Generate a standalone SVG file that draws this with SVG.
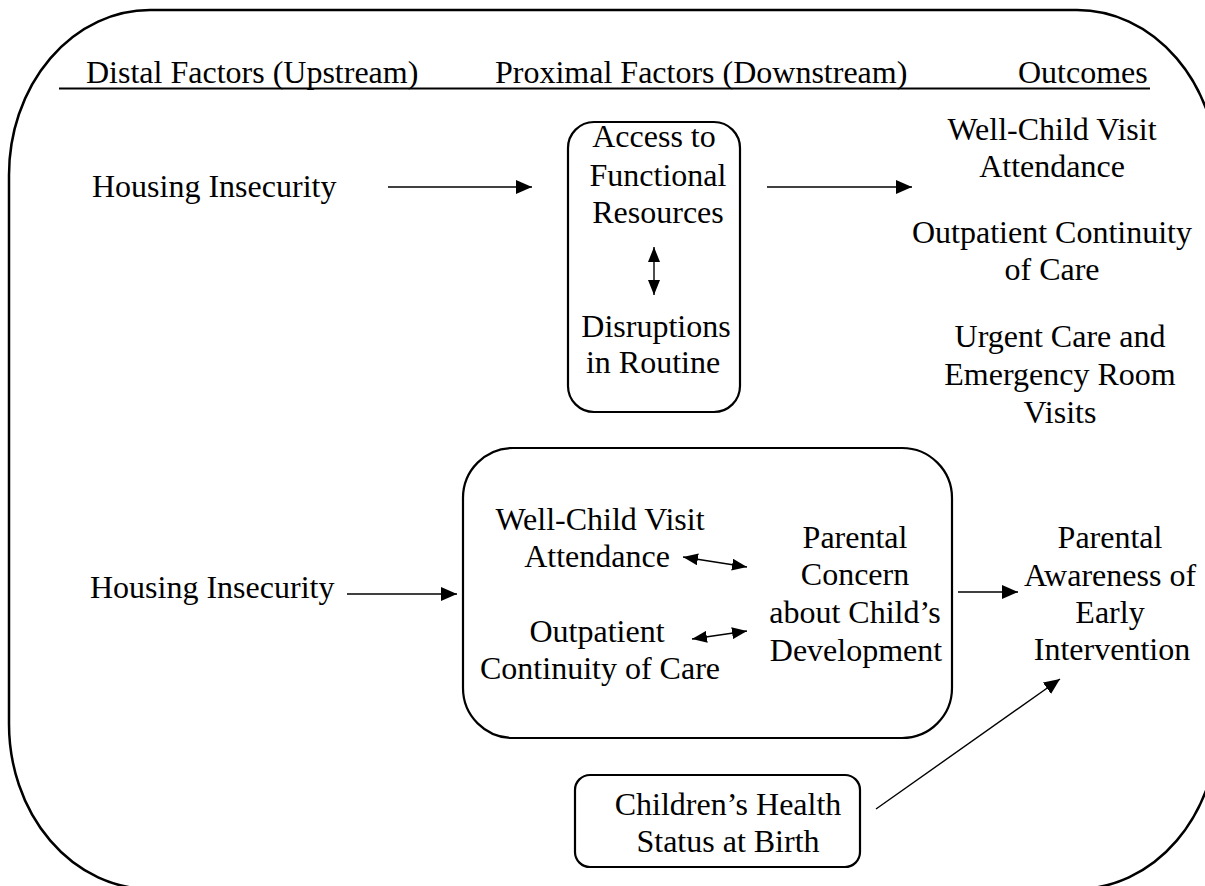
<svg xmlns="http://www.w3.org/2000/svg" width="1205" height="886" viewBox="0 0 1205 886">
<defs>
<style>
text{font-family:"Liberation Serif","Times New Roman",serif;font-size:32px;fill:#000}
.c{text-anchor:middle}
.box{fill:none;stroke:#000;stroke-width:2.2}
.ln{fill:none;stroke:#000;stroke-width:1.4}
</style>
<marker id="ah" viewBox="0 0 16 14" refX="16" refY="7" markerWidth="16" markerHeight="14" markerUnits="userSpaceOnUse" orient="auto-start-reverse">
<path d="M0,0 L16,7 L0,14 Z" fill="#000"/>
</marker>
<marker id="ahs" viewBox="0 0 15 12" refX="15" refY="6" markerWidth="15" markerHeight="12" markerUnits="userSpaceOnUse" orient="auto-start-reverse">
<path d="M0,0 L15,6 L0,12 Z" fill="#000"/>
</marker>
</defs>
<rect width="1205" height="886" fill="#fff"/>
<g id="frame">
<rect x="9" y="10" width="1209" height="879" rx="141" ry="165" fill="none" stroke="#000" stroke-width="2.5"/>
</g>
<g id="header">
<text x="86" y="83">Distal Factors (Upstream)</text>
<text x="495" y="83">Proximal Factors (Downstream)</text>
<text x="1018" y="83">Outcomes</text>
<line x1="59" y1="88.5" x2="1150" y2="88.5" stroke="#000" stroke-width="2"/>
</g>
<g id="housing1">
<text x="92" y="197">Housing Insecurity</text>
</g>
<g id="proximal1">
<rect class="box" x="568" y="122" width="172" height="290" rx="26" ry="26"/>
<text class="c" x="654" y="147">Access to</text>
<text class="c" x="658" y="186">Functional</text>
<text class="c" x="658" y="223">Resources</text>
<text class="c" x="656" y="337">Disruptions</text>
<text class="c" x="653" y="373">in Routine</text>
</g>
<g id="outcomes1">
<text class="c" x="1052" y="140">Well-Child Visit</text>
<text class="c" x="1052" y="177">Attendance</text>
<text class="c" x="1052" y="243">Outpatient Continuity</text>
<text class="c" x="1052" y="280">of Care</text>
<text class="c" x="1060" y="347">Urgent Care and</text>
<text class="c" x="1060" y="385">Emergency Room</text>
<text class="c" x="1060" y="423">Visits</text>
</g>
<g id="housing2">
<text x="90" y="598">Housing Insecurity</text>
</g>
<g id="proximal2">
<rect class="box" x="463" y="448" width="489" height="290" rx="50" ry="50"/>
<text class="c" x="600" y="530">Well-Child Visit</text>
<text class="c" x="597" y="567">Attendance</text>
<text class="c" x="597" y="642">Outpatient</text>
<text class="c" x="600" y="679">Continuity of Care</text>
<text class="c" x="855" y="548">Parental</text>
<text class="c" x="855" y="585">Concern</text>
<text class="c" x="855" y="623">about Child’s</text>
<text class="c" x="856" y="661">Development</text>
</g>
<g id="outcome2">
<text class="c" x="1110" y="548">Parental</text>
<text class="c" x="1110" y="586">Awareness of</text>
<text class="c" x="1110" y="623">Early</text>
<text class="c" x="1112" y="660">Intervention</text>
</g>
<g id="birth">
<rect class="box" x="575" y="775" width="285" height="92" rx="15" ry="15"/>
<text class="c" x="728" y="815">Children’s Health</text>
<text class="c" x="728" y="852">Status at Birth</text>
</g>
<g id="connectors">
<line class="ln" x1="388" y1="187" x2="532" y2="187" marker-end="url(#ah)"/>
<line class="ln" x1="767" y1="187" x2="912" y2="187" marker-end="url(#ah)"/>
<line class="ln" x1="654" y1="247" x2="654" y2="295" marker-start="url(#ahs)" marker-end="url(#ahs)"/>
<line class="ln" x1="683" y1="557" x2="747" y2="567" marker-start="url(#ahs)" marker-end="url(#ahs)"/>
<line class="ln" x1="692" y1="639" x2="747" y2="631" marker-start="url(#ahs)" marker-end="url(#ahs)"/>
<line class="ln" x1="347" y1="594" x2="457" y2="594" marker-end="url(#ah)"/>
<line class="ln" x1="958" y1="592" x2="1018" y2="592" marker-end="url(#ah)"/>
<line class="ln" x1="876" y1="809" x2="1060" y2="679" marker-end="url(#ah)"/>
</g>
</svg>
